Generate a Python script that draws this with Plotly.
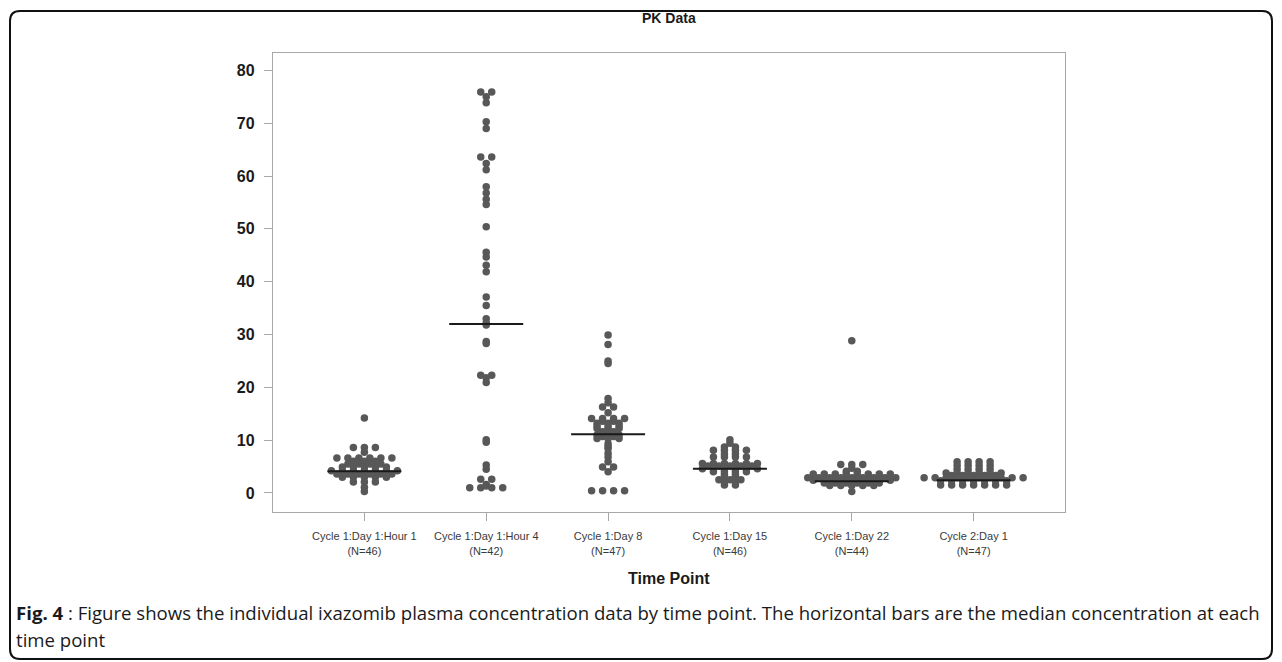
import numpy as np
import plotly.graph_objects as go

# ---------------- data ----------------
categories = ["Cycle 1:Day 1:Hour 1", "Cycle 1:Day 1:Hour 4", "Cycle 1:Day 8",
              "Cycle 1:Day 15", "Cycle 1:Day 22", "Cycle 2:Day 1"]
n_labels = ["(N=46)", "(N=42)", "(N=47)", "(N=46)", "(N=44)", "(N=47)"]

conc_c1d1_h1 = [14.2, 8.6, 8.6, 8.6, 7.7, 6.6, 6.6, 6.6, 6.6, 6.6, 6.6,
                6.0, 6.0, 6.0, 5.5, 5.5, 5.5, 5.5, 4.9, 4.9, 4.9, 4.9, 4.9,
                4.2, 4.2, 4.2, 4.2, 4.2, 4.2, 4.2, 3.6, 3.6, 3.6, 3.6, 3.6, 3.6,
                3.0, 3.0, 3.0, 3.0, 3.0, 2.1, 2.1, 2.1, 1.1, 0.3]
conc_c1d1_h4 = [75.9, 75.9, 75.0, 73.9, 70.3, 69.0, 63.6, 63.6, 62.4, 61.2,
                58.0, 56.8, 55.6, 54.6, 50.4, 45.6, 44.7, 43.1, 41.9, 37.1, 35.5,
                33.0, 32.2, 31.8, 28.7, 28.3, 22.3, 22.3, 21.8, 20.9, 10.1, 9.6,
                5.3, 4.5, 2.6, 2.6, 1.6, 1.3, 1.0, 1.0, 1.0, 1.0]
conc_c1d8 = [29.9, 28.1, 25.0, 24.5, 17.9, 17.1, 16.3, 16.3, 15.2,
             14.1, 14.1, 14.1, 14.1, 13.6, 13.6, 13.2, 13.2, 13.2,
             12.7, 12.7, 12.7, 12.2, 12.2, 12.2, 11.6, 11.6, 11.0, 11.0, 11.0,
             10.7, 10.7, 10.3, 10.3, 10.3, 9.3, 8.8, 8.4, 7.5, 6.8,
             5.9, 4.9, 4.9, 4.0, 0.4, 0.4, 0.4, 0.4]
conc_c1d15 = [10.1, 9.4, 8.7, 8.7, 8.1, 8.1, 8.1, 8.1, 7.4, 7.4,
              6.8, 6.8, 6.8, 6.8, 5.6, 5.6, 5.6, 5.6, 5.6, 5.6,
              5.1, 5.1, 5.1, 5.1, 5.1, 4.6, 4.6, 4.6, 4.6, 4.6, 4.6,
              4.0, 4.0, 4.0, 4.0, 3.5, 3.5, 3.0, 3.0, 2.5, 2.5, 2.5,
              2.1, 2.1, 1.5, 1.5]
conc_c1d22 = [28.8, 5.4, 5.4, 5.4, 4.7, 4.1, 4.1,
              3.6, 3.6, 3.6, 3.6, 3.6, 3.6, 3.6, 3.6,
              2.9, 2.9, 2.9, 2.9, 2.9, 2.9, 2.9, 2.9, 2.9,
              2.4, 2.4, 2.4, 2.4, 2.4, 2.4, 2.4, 2.4,
              1.9, 1.9, 1.9, 1.9, 1.9, 1.9,
              1.4, 1.4, 1.4, 1.4, 1.4, 0.3]
conc_c2d1 = [5.9, 5.9, 5.9, 5.9, 5.2, 5.2, 5.2, 5.2, 4.5, 4.5, 4.5, 4.5,
             3.8, 3.8, 3.8, 3.8, 3.8, 3.8, 3.3, 3.3, 3.3, 3.3, 3.3,
             2.9, 2.9, 2.9, 2.9, 2.9, 2.9, 2.9, 2.9, 2.9, 2.9,
             2.3, 2.3, 2.3, 2.3, 2.3, 2.3, 2.3,
             1.5, 1.5, 1.5, 1.5, 1.5, 1.5, 1.5]
groups = [conc_c1d1_h1, conc_c1d1_h4, conc_c1d8, conc_c1d15, conc_c1d22, conc_c2d1]
medians = [4.1, 32.0, 11.1, 4.6, 2.2, 2.4]

y_ticks = [0, 10, 20, 30, 40, 50, 60, 70, 80]

caption_bold = "Fig. 4"
caption_line1 = (" : Figure shows the individual ixazomib plasma concentration data by time point. "
                 "The horizontal bars are the median concentration at each")
caption_line2 = "time point"

# ---------------- layout geometry ----------------
W, H = 1282, 662
ML, MR, MT, MB = 273, 217, 53, 150
PW, PH = W - ML - MR, H - MT - MB
X_RANGE = [-0.75, 5.75]
Y_RANGE = [-3.6, 83.3]
px_per_x = PW / (X_RANGE[1] - X_RANGE[0])
DOT_SPACING = 11 / px_per_x        # horizontal spacing of dots in a row
MED_HALF = 37 / px_per_x           # half-width of the median bars


def px2paper_x(px):
    return (px - ML) / PW


def px2paper_y(py):
    return (H - MB - py) / PH


def row_offsets(values, spacing):
    vals = np.asarray(values, float)
    offs = np.zeros(len(vals))
    for v in np.unique(vals):
        idx = np.where(vals == v)[0]
        k = len(idx)
        offs[idx] = (np.arange(k) - (k - 1) / 2) * spacing
    return offs


fig = go.Figure()

for i, vals in enumerate(groups):
    xs = i + row_offsets(vals, DOT_SPACING)
    fig.add_trace(go.Scatter(
        x=xs, y=vals, mode="markers",
        marker=dict(size=7.5, color="#585858", line=dict(width=0)),
        showlegend=False, hoverinfo="y"))

for i, m in enumerate(medians):
    fig.add_trace(go.Scatter(
        x=[i - MED_HALF, i + MED_HALF], y=[m, m], mode="lines",
        line=dict(color="#1a1a1a", width=2), showlegend=False, hoverinfo="skip"))

tick_text = [f"{c}<br>{n}" for c, n in zip(categories, n_labels)]

fig.update_xaxes(
    range=X_RANGE, tickmode="array", tickvals=list(range(len(categories))),
    ticktext=tick_text, showgrid=False, zeroline=False,
    showline=True, linecolor="#a8a8a8", linewidth=1.3, mirror=True,
    ticks="outside", ticklen=8, tickcolor="#a8a8a8", tickwidth=1.3,
    tickfont=dict(family="Liberation Sans, Arial", size=11, color="#3a3a3a"),
    ticklabelstandoff=6)
fig.update_yaxes(
    range=Y_RANGE, tickmode="array", tickvals=y_ticks,
    showgrid=False, zeroline=False,
    showline=True, linecolor="#a8a8a8", linewidth=1.3, mirror=True,
    ticks="outside", ticklen=8, tickcolor="#a8a8a8", tickwidth=1.3,
    tickfont=dict(family="Liberation Sans, Arial", size=16, color="#1a1a1a", weight="bold"),
    ticklabelstandoff=6)

annotations = [
    dict(text="PK Data", x=0.5, y=px2paper_y(18), xref="paper", yref="paper",
         xanchor="center", yanchor="middle", showarrow=False,
         font=dict(family="Liberation Sans, Arial", size=14, color="#1a1a1a", weight="bold")),
    dict(text="Time Point", x=0.5, y=px2paper_y(578), xref="paper", yref="paper",
         xanchor="center", yanchor="middle", showarrow=False,
         font=dict(family="Liberation Sans, Arial", size=16, color="#1a1a1a", weight="bold")),
    dict(text=f"<b>{caption_bold}</b>{caption_line1}", x=px2paper_x(14), y=px2paper_y(612),
         xref="paper", yref="paper", xanchor="left", yanchor="middle", showarrow=False,
         font=dict(family="Open Sans", size=18.6, color="#1a1a1a")),
    dict(text=caption_line2, x=px2paper_x(14), y=px2paper_y(639),
         xref="paper", yref="paper", xanchor="left", yanchor="middle", showarrow=False,
         font=dict(family="Open Sans", size=18.6, color="#1a1a1a")),
]

# rounded outer frame
x0, x1 = px2paper_x(10), px2paper_x(1272)
yt, yb = px2paper_y(11), px2paper_y(659)
rx, ry = 10 / PW, 10 / PH
path = (f"M {x0+rx},{yt} L {x1-rx},{yt} Q {x1},{yt} {x1},{yt-ry} "
        f"L {x1},{yb+ry} Q {x1},{yb} {x1-rx},{yb} L {x0+rx},{yb} "
        f"Q {x0},{yb} {x0},{yb+ry} L {x0},{yt-ry} Q {x0},{yt} {x0+rx},{yt} Z")

fig.update_layout(
    width=W, height=H,
    margin=dict(l=ML, r=MR, t=MT, b=MB, autoexpand=False),
    paper_bgcolor="white", plot_bgcolor="white",
    annotations=annotations,
    shapes=[dict(type="path", path=path, xref="paper", yref="paper",
                 line=dict(color="#111111", width=2), layer="above")],
    showlegend=False,
)

fig.write_html("out.html", config={"displayModeBar": False},
               post_script="document.body.style.margin='0';document.body.style.overflow='hidden';")
